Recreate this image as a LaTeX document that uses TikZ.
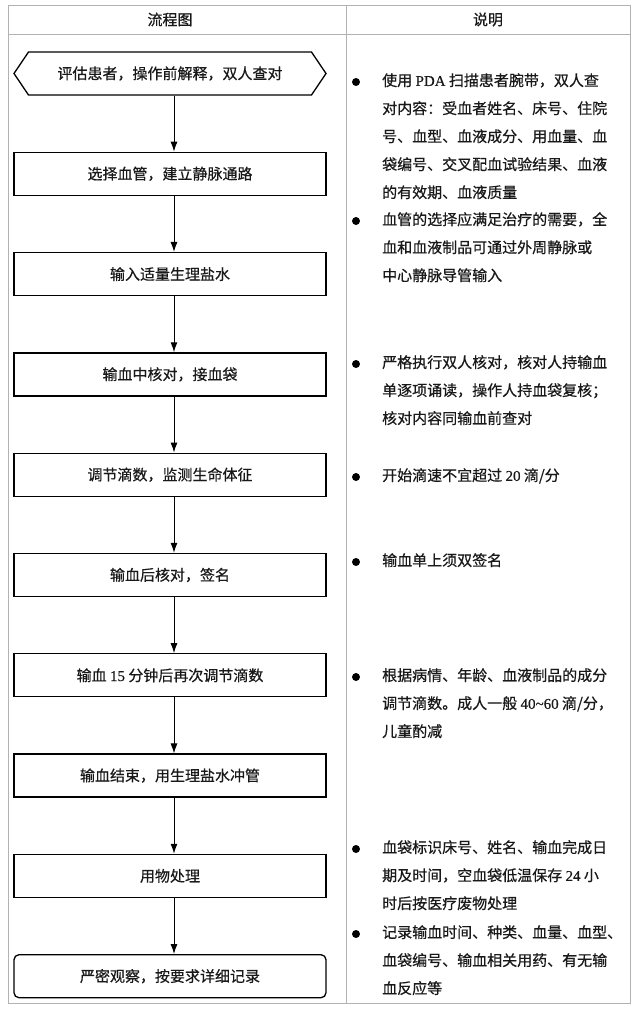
\documentclass[tikz,border=0pt]{standalone}
\usepackage{fontspec}
\setmainfont{Liberation Serif}[FakeBold=0.6]
\newfontfamily\cjk{Noto Sans CJK SC}[FakeBold=0.6]
\usepackage{tikz}
\usetikzlibrary{shapes.symbols, arrows.meta, positioning}
\newcommand{\ltn}[1]{{\rmfamily #1}}
\tikzstyle{arrow} = [line width=1pt,-{Latex[length=10pt,width=7pt]}]
\tikzstyle{stepbox} = [draw, rectangle, line width=1.3pt, minimum width=312pt, minimum height=43pt]
\tikzstyle{note} = [anchor=north west, align=left, inner sep=0pt]
\tikzstyle{dot} = [circle, fill=black, inner sep=0pt, minimum size=8pt]

\begin{document}
\begin{tikzpicture}[x=1pt, y=-1pt, node distance=56pt, every node/.style={font=\cjk\fontsize{15}{28}\selectfont, text=black!90}]
\useasboundingbox (0,0) rectangle (639,1013);
% Table frame
\draw [gray!60, line width=0.9pt] (8,5) rectangle (630,1003);
\draw [gray!60, line width=0.9pt] (8,34) -- (630,34);
\draw [gray!60, line width=0.9pt] (346,5) -- (346,1003);
\node (headflow) at (170,19.5) {流程图};
\node (headnote) at (488,19.5) {说明};

% Flow steps
\node (eval) [draw, signal, signal to=west and east, signal pointer angle=112, line width=1.3pt, minimum width=312pt, minimum height=43pt] at (170,73.5) {评估患者，操作前解释，双人查对};
\node (vein) [stepbox, below=of eval] {选择血管，建立静脉通路};
\node (saline) [stepbox, below=of vein] {输入适量生理盐水};
\node (check) [stepbox, below=of saline] {输血中核对，接血袋};
\node (drip) [stepbox, below=of check] {调节滴数，监测生命体征};
\node (sign) [stepbox, below=of drip] {输血后核对，签名};
\node (redrip) [stepbox, below=of sign] {输血 \ltn{15} 分钟后再次调节滴数};
\node (flush) [stepbox, below=of redrip] {输血结束，用生理盐水冲管};
\node (waste) [stepbox, below=of flush] {用物处理};
\node (observe) [stepbox, rounded corners=5pt, below=of waste] {严密观察，按要求详细记录};

% Arrows
\draw [arrow] ([xshift=4pt]eval.south) -- ([xshift=4pt]vein.north);
\draw [arrow] ([xshift=4pt]vein.south) -- ([xshift=4pt]saline.north);
\draw [arrow] ([xshift=4pt]saline.south) -- ([xshift=4pt]check.north);
\draw [arrow] ([xshift=4pt]check.south) -- ([xshift=4pt]drip.north);
\draw [arrow] ([xshift=4pt]drip.south) -- ([xshift=4pt]sign.north);
\draw [arrow] ([xshift=4pt]sign.south) -- ([xshift=4pt]redrip.north);
\draw [arrow] ([xshift=4pt]redrip.south) -- ([xshift=4pt]flush.north);
\draw [arrow] ([xshift=4pt]flush.south) -- ([xshift=4pt]waste.north);
\draw [arrow] ([xshift=4pt]waste.south) -- ([xshift=4pt]observe.north);

% Notes
\node (dot1) [dot] at (356,82) {};
\node (note1) [note] at (382,73) {使用 \ltn{PDA} 扫描患者腕带，双人查\\对内容：受血者姓名、床号、住院\\号、血型、血液成分、用血量、血\\袋编号、交叉配血试验结果、血液\\的有效期、血液质量};
\node (dot2) [dot] at (356,221) {};
\node (note2) [note] at (382,212) {血管的选择应满足治疗的需要，全\\血和血液制品可通过外周静脉或\\中心静脉导管输入};
\node (dot3) [dot] at (356,364) {};
\node (note3) [note] at (382,355) {严格执行双人核对，核对人持输血\\单逐项诵读，操作人持血袋复核；\\核对内容同输血前查对};
\node (dot4) [dot] at (356,477) {};
\node (note4) [note] at (382,468) {开始滴速不宜超过 \ltn{20} 滴/分};
\node (dot5) [dot] at (356,562) {};
\node (note5) [note] at (382,553) {输血单上须双签名};
\node (dot6) [dot] at (356,677) {};
\node (note6) [note] at (382,668) {根据病情、年龄、血液制品的成分\\调节滴数。成人一般 \ltn{40\textasciitilde60} 滴/分，\\儿童酌减};
\node (dot7) [dot] at (356,849) {};
\node (note7) [note] at (382,840) {血袋标识床号、姓名、输血完成日\\期及时间，空血袋低温保存 \ltn{24} 小\\时后按医疗废物处理};
\node (dot8) [dot] at (356,934) {};
\node (note8) [note] at (382,925) {记录输血时间、种类、血量、血型、\\血袋编号、输血相关用药、有无输\\血反应等};
\end{tikzpicture}
\end{document}
